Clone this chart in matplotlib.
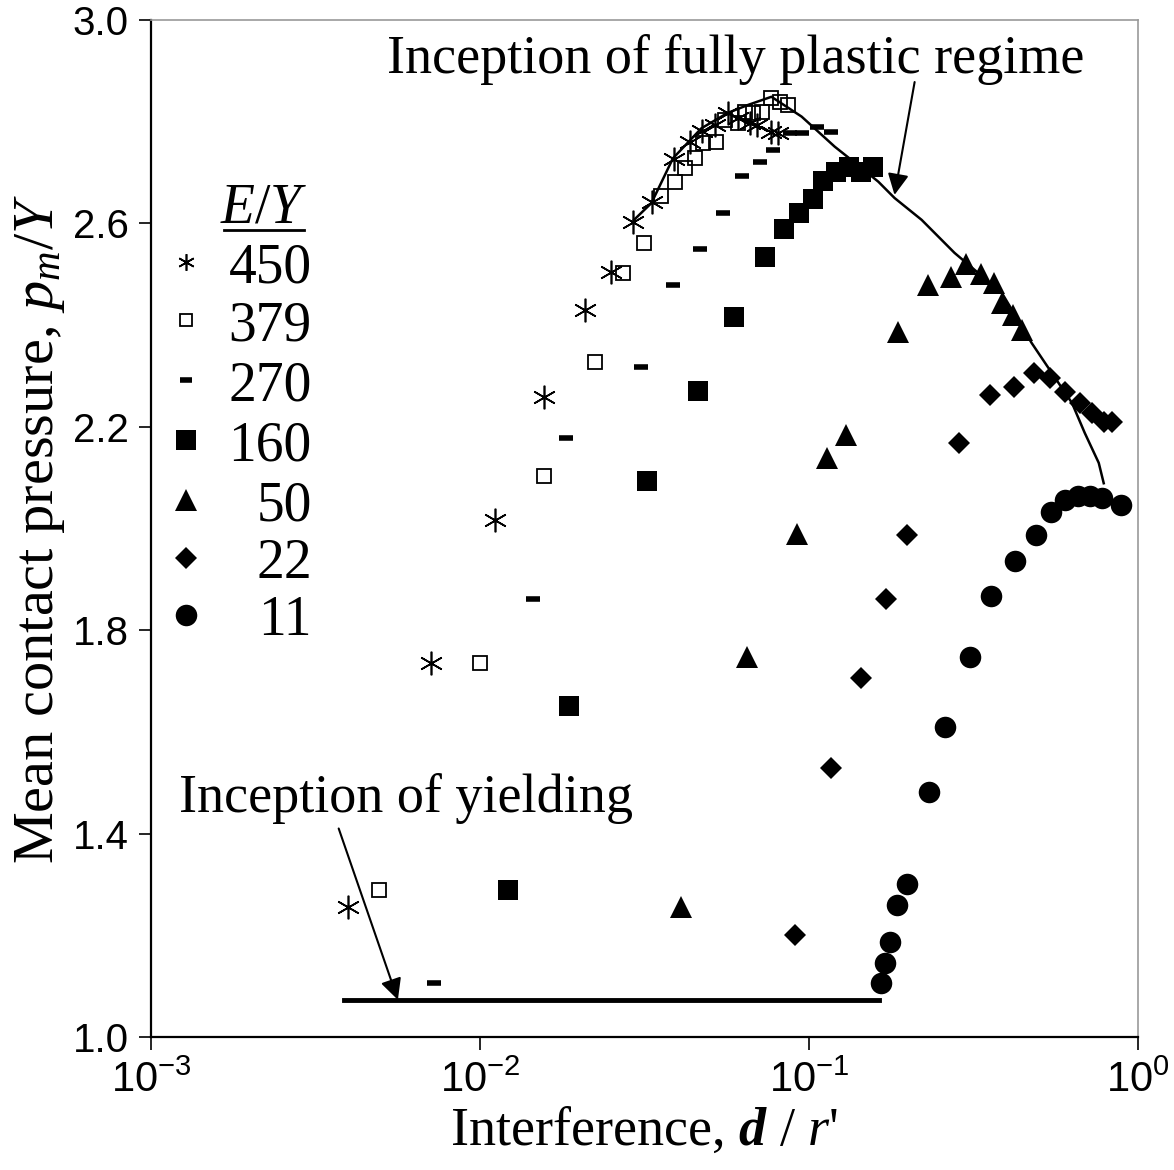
import matplotlib
matplotlib.use("Agg")
import matplotlib.pyplot as plt
from matplotlib.ticker import NullLocator, FixedLocator, FixedFormatter

plt.rcParams['font.family'] = ['Liberation Serif', 'DejaVu Serif']
plt.rcParams['mathtext.fontset'] = 'custom'
plt.rcParams['mathtext.rm'] = 'Liberation Serif'
plt.rcParams['mathtext.it'] = 'Liberation Serif:italic'
plt.rcParams['mathtext.bf'] = 'Liberation Serif:italic:bold'
plt.rcParams['mathtext.sf'] = 'Liberation Sans'

# E/Y = 450
x450 = [0.00397, 0.00708, 0.01113, 0.0157, 0.0208, 0.0251, 0.0292, 0.0334, 0.0389, 0.0435,
        0.0473, 0.0517, 0.0566, 0.0609, 0.066, 0.0693, 0.0769, 0.0805]
y450 = [1.256, 1.735, 2.017, 2.259, 2.43, 2.504, 2.603, 2.642, 2.727, 2.761,
        2.782, 2.793, 2.817, 2.807, 2.797, 2.793, 2.780, 2.778]
# E/Y = 379
x379 = [0.00494, 0.01002, 0.0157, 0.0223, 0.0273, 0.0316, 0.0354, 0.0391, 0.0419, 0.045,
        0.0477, 0.0523, 0.0555, 0.0609, 0.0638, 0.0677, 0.0718, 0.0769, 0.0815, 0.0864]
y379 = [1.289, 1.735, 2.103, 2.327, 2.502, 2.561, 2.653, 2.682, 2.708, 2.728,
        2.758, 2.761, 2.803, 2.797, 2.820, 2.817, 2.820, 2.846, 2.839, 2.833]
# E/Y = 270
x270 = [0.00727, 0.0145, 0.0182, 0.0308, 0.0387, 0.0468, 0.0546, 0.0624, 0.0708, 0.0778,
        0.0875, 0.095, 0.1055, 0.117]
y270 = [1.106, 1.861, 2.178, 2.318, 2.479, 2.550, 2.620, 2.693, 2.721, 2.744,
        2.777, 2.777, 2.790, 2.779]
# E/Y = 160
x160 = [0.0122, 0.0186, 0.0323, 0.0459, 0.059, 0.0733, 0.0838, 0.093, 0.1026, 0.1107,
        0.1205, 0.1328, 0.1444, 0.157]
y160 = [1.289, 1.651, 2.093, 2.270, 2.416, 2.534, 2.589, 2.620, 2.648, 2.683,
        2.701, 2.711, 2.701, 2.711]
# E/Y = 50
x50 = [0.0407, 0.0646, 0.0917, 0.1132, 0.130, 0.1866, 0.2305, 0.270, 0.300, 0.333,
       0.3655, 0.386, 0.418, 0.444]
y50 = [1.256, 1.747, 1.989, 2.138, 2.184, 2.387, 2.479, 2.495, 2.520, 2.500,
       2.482, 2.443, 2.420, 2.390]
# E/Y = 22
x22 = [0.0904, 0.117, 0.1436, 0.172, 0.198, 0.285, 0.356, 0.421, 0.483, 0.541,
       0.600, 0.667, 0.724, 0.786, 0.833]
y22 = [1.201, 1.529, 1.706, 1.861, 1.987, 2.168, 2.263, 2.279, 2.305, 2.296,
       2.269, 2.246, 2.227, 2.210, 2.210]
# E/Y = 11
x11 = [0.165, 0.170, 0.1767, 0.185, 0.198, 0.231, 0.2585, 0.308, 0.357, 0.422,
       0.489, 0.543, 0.600, 0.659, 0.715, 0.776, 0.889]
y11 = [1.106, 1.146, 1.187, 1.260, 1.300, 1.482, 1.610, 1.747, 1.867, 1.936,
       1.987, 2.033, 2.056, 2.063, 2.063, 2.059, 2.046]

# fully plastic curve
x_fp = [0.0294, 0.0332, 0.0386, 0.0471, 0.0565, 0.0653, 0.0769, 0.095, 0.1197, 0.1400,
        0.1625, 0.182, 0.22, 0.277, 0.386, 0.475, 0.547, 0.630, 0.689, 0.760, 0.787]
y_fp = [2.607, 2.640, 2.728, 2.787, 2.817, 2.833, 2.849, 2.810, 2.751, 2.716,
        2.682, 2.650, 2.607, 2.542, 2.463, 2.365, 2.306, 2.247, 2.188, 2.129, 2.089]

# inception of yielding
x_yield = [0.00387, 0.1637]
y_yield = [1.073, 1.073]

legend_labels = ['450', '379', '270', '160', '50', '22', '11']

styles = [
    dict(marker=(6, 2, 0), ms=17, mfc='none', mec='black', mew=1.2),
    dict(marker='s', ms=9.5, mfc='none', mec='black', mew=1.3),
    dict(marker='_', ms=10.5, mec='black', mew=4),
    dict(marker='s', ms=14, mfc='black', mec='black', mew=0),
    dict(marker='^', ms=16, mfc='black', mec='black', mew=0),
    dict(marker='D', ms=11, mfc='black', mec='black', mew=0),
    dict(marker='o', ms=15.5, mfc='black', mec='black', mew=0),
]
legend_ms = [12, 8, 9, 14, 16, 11, 15.5]

fig = plt.figure(figsize=(11.74, 11.70), dpi=100)
ax = fig.add_axes([0.1286, 0.1137, 0.8407, 0.8692])

series = [(x450, y450), (x379, y379), (x270, y270), (x160, y160),
          (x50, y50), (x22, y22), (x11, y11)]
for (xs, ys), st in zip(series, styles):
    ax.plot(xs, ys, linestyle='none', **st)

ax.plot(x_fp, y_fp, color='black', lw=1.8)
ax.plot(x_yield, y_yield, color='black', lw=3.5)

ax.set_xscale('log')
ax.set_xlim(1e-3, 1)
ax.set_ylim(1.0, 3.0)

ax.xaxis.set_major_locator(FixedLocator([1e-3, 1e-2, 1e-1, 1]))
ax.xaxis.set_major_formatter(FixedFormatter([r'$\mathsf{10^{-3}}$', r'$\mathsf{10^{-2}}$',
                                             r'$\mathsf{10^{-1}}$', r'$\mathsf{10^{0}}$']))
ax.xaxis.set_minor_locator(NullLocator())
yt = [1.0, 1.4, 1.8, 2.2, 2.6, 3.0]
ax.set_yticks(yt)
ax.set_yticklabels(['%.1f' % v for v in yt])
for lab in ax.get_yticklabels():
    lab.set_fontfamily('Liberation Sans')
ax.tick_params(axis='y', labelsize=29, length=9, width=1.2, pad=7, direction='out')
ax.tick_params(axis='x', labelsize=30, length=9, width=1.2, pad=8, direction='out')

for s in ['left', 'bottom']:
    ax.spines[s].set_linewidth(1.6)
    ax.spines[s].set_color('black')
for s in ['top', 'right']:
    ax.spines[s].set_linewidth(1.2)
    ax.spines[s].set_color('#999999')

ax.set_xlabel(r"Interference, $\mathbf{d}$ / $r$'", fontsize=39, labelpad=4)
ax.set_ylabel(r"Mean contact pressure, $p_m$/$Y$", fontsize=42, labelpad=4)

# annotations
ax.annotate('', xy=(0.182, 2.656), xytext=(0.2095, 2.878),
            arrowprops=dict(arrowstyle='-|>', color='black', lw=1.5, mutation_scale=32,
                            shrinkA=0, shrinkB=0))
ax.text(0.0598, 2.896, 'Inception of fully plastic regime', fontsize=39,
        ha='center', va='baseline')
ax.annotate('', xy=(0.00563, 1.073), xytext=(0.00372, 1.410),
            arrowprops=dict(arrowstyle='-|>', color='black', lw=1.5, mutation_scale=32,
                            shrinkA=0, shrinkB=0))
ax.text(0.00597, 1.442, 'Inception of yielding', fontsize=39, ha='center', va='baseline')

# legend drawn by hand
ax.text(0.1145, 0.801, r'$E/Y$', transform=ax.transAxes, fontsize=40,
        ha='center', va='baseline')
ax.plot([0.074, 0.155], [0.7935, 0.7935], transform=ax.transAxes, color='black',
        lw=2, clip_on=False)
row_y = [0.762, 0.705, 0.646, 0.587, 0.528, 0.471, 0.415]
for lab, st, ms, ry in zip(legend_labels, styles, legend_ms, row_y):
    st2 = dict(st)
    st2['ms'] = ms
    ax.plot([0.0355], [ry], transform=ax.transAxes, linestyle='none', clip_on=False, **st2)
    ax.text(0.163, ry - 0.0197, lab, transform=ax.transAxes, fontsize=40,
            ha='right', va='baseline')

fig.savefig('out.png', dpi=100)
